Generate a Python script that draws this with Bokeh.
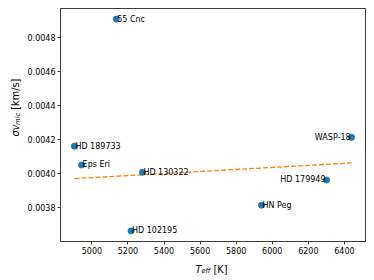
import math
from bokeh.plotting import figure
from bokeh.models import Range1d, FixedTicker, ColumnDataSource, Label
from bokeh.layouts import row, column
from bokeh.embed import file_html
from bokeh.resources import INLINE
from bokeh.core.properties import value

# ---- data ----
stars = ["55 Cnc", "HD 189733", "Eps Eri", "HD 130322", "HD 102195", "HN Peg", "HD 179949", "WASP-18"]
teff = [5135, 4903, 4943, 5280, 5217, 5940, 6301, 6440]
sigma_vmic = [0.004907, 0.004161, 0.004051, 0.004008, 0.003664, 0.003815, 0.003963, 0.004213]
label_side = ["left", "left", "left", "left", "left", "left", "right", "right"]

fit_teff = [4903, 6440]
fit_sigma = [0.003971, 0.004063]

x_ticks = [5000, 5200, 5400, 5600, 5800, 6000, 6200, 6400]
x_tick_labels = ["5000", "5200", "5400", "5600", "5800", "6000", "6200", "6400"]
y_ticks = [0.0038, 0.0040, 0.0042, 0.0044, 0.0046, 0.0048]
y_tick_labels = ["0.0038", "0.0040", "0.0042", "0.0044", "0.0046", "0.0048"]

FONT = "DejaVu Sans"
SPINE = "#3a3a3a"

YLAB_W = 24
P_W, P_H = 350, 258
XLAB_H = 22

p = figure(width=P_W, height=P_H,
           x_range=Range1d(4826, 6517), y_range=Range1d(0.003602, 0.004969),
           output_backend="svg", toolbar_location=None,
           min_border_left=34, min_border_right=9, min_border_top=8, min_border_bottom=17)
p.grid.visible = False
p.outline_line_color = SPINE
p.outline_line_width = 1
p.background_fill_color = "white"
p.border_fill_color = "white"

for ax in (p.xaxis[0], p.yaxis[0]):
    ax.axis_line_color = SPINE
    ax.major_tick_line_color = SPINE
    ax.major_tick_out = 3
    ax.major_tick_in = 0
    ax.minor_tick_line_color = None
    ax.major_label_text_font = FONT
    ax.major_label_text_font_size = "8px"
    ax.major_label_text_color = "black"
    ax.major_label_standoff = 2

p.xaxis.ticker = FixedTicker(ticks=x_ticks)
p.xaxis.major_label_overrides = {t: l for t, l in zip(x_ticks, x_tick_labels)}
p.yaxis.ticker = FixedTicker(ticks=y_ticks)
p.yaxis.major_label_overrides = {t: l for t, l in zip(y_ticks, y_tick_labels)}

# fit line
p.line(fit_teff, fit_sigma, line_color="#ff7f0e", line_width=1.3, line_dash="5 2")

# points
p.scatter(teff, sigma_vmic, size=6, fill_color="#1f77b4", line_color="#1f77b4")

src_l = ColumnDataSource(dict(
    x=[t for t, s in zip(teff, label_side) if s == "left"],
    y=[v for v, s in zip(sigma_vmic, label_side) if s == "left"],
    name=[n for n, s in zip(stars, label_side) if s == "left"]))
src_r = ColumnDataSource(dict(
    x=[t for t, s in zip(teff, label_side) if s == "right"],
    y=[v for v, s in zip(sigma_vmic, label_side) if s == "right"],
    name=[n for n, s in zip(stars, label_side) if s == "right"]))
p.text(x="x", y="y", text="name", source=src_l, text_font=value(FONT), text_font_size="8px",
       text_align="left", text_baseline="alphabetic", text_color="black", x_offset=1)
p.text(x="x", y="y", text="name", source=src_r, text_font=value(FONT), text_font_size="8px",
       text_align="right", text_baseline="alphabetic", text_color="black", x_offset=-1)


def helper(w, h):
    f = figure(width=w, height=h, x_range=Range1d(0, w), y_range=Range1d(0, h),
               output_backend="svg", toolbar_location=None, title=None,
               x_axis_location=None, y_axis_location=None,
               min_border=0, outline_line_color=None)
    f.grid.visible = False
    f.background_fill_color = "white"
    f.border_fill_color = "white"
    return f


def lab(f, x, y, text, size, italic, angle=0.0, baseline="alphabetic"):
    f.add_layout(Label(x=x, y=y, x_units="screen", y_units="screen", text=text, angle=angle,
                       text_font=FONT, text_font_size=size,
                       text_font_style="italic" if italic else "normal",
                       text_align="left", text_baseline=baseline, text_color="black"))


# y axis label: sigma v_mic [km/s]
yfig = helper(YLAB_W, P_H)
ang = math.pi / 2
lab(yfig, 15, 105, "σv", "9.7px", True, ang, "middle")
lab(yfig, 17, 116.5, "mic", "6.8px", True, ang, "middle")
lab(yfig, 15, 131.8, "[km/s]", "9.7px", False, ang, "middle")

# x axis label: T_eff [K]
xfig = helper(YLAB_W + P_W, XLAB_H)
lab(xfig, 195, 11.5, "T", "9.7px", True)
lab(xfig, 200.9, 9.5, "eff", "6.8px", True)
lab(xfig, 213, 11.5, "[K]", "9.7px", False)

layout = column(row(yfig, p, spacing=0), xfig, spacing=0)
open("out.html", "w").write(file_html(layout, INLINE))
